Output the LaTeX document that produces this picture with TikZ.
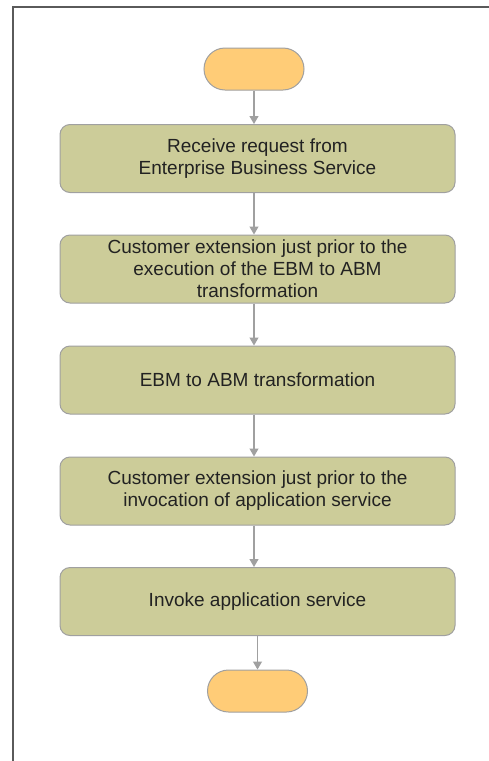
\documentclass[tikz,border=0pt]{standalone}
\usepackage{fontspec}
\setmainfont{Liberation Sans}
\usetikzlibrary{arrows.meta}
\definecolor{boxfill}{RGB}{204,204,153}
\definecolor{termfill}{RGB}{255,204,119}
\definecolor{edgegray}{RGB}{160,160,160}
\definecolor{framegray}{RGB}{90,90,90}
\definecolor{txt}{RGB}{34,34,34}
\begin{document}
\begin{tikzpicture}[x=1pt,y=-1pt,
  stepbox/.style={draw=edgegray, line width=1pt, fill=boxfill, rounded corners=10pt,
    minimum width=395pt, minimum height=68pt, align=center, text=txt,
    font=\fontsize{19}{22}\selectfont, inner sep=0pt},
  term/.style={draw=edgegray, line width=1pt, fill=termfill, rounded corners=21pt,
    minimum width=100pt, minimum height=42pt, inner sep=0pt},
  arr/.style={draw=edgegray, line width=1.2pt, -{Triangle[width=9pt,length=8pt]}}]
\useasboundingbox (0,0) rectangle (489,761);
\fill[white] (0,0) rectangle (489,761);
\draw[framegray, line width=2pt] (13,761) -- (13,7) -- (489,7);
\node[term] (s) at (254,69) {};
\node[stepbox] (b1) at (257.5,158.5) {Receive request from\\Enterprise Business Service};
\node[stepbox] (b2) at (257.5,269) {Customer extension just prior to the\\execution of the EBM to ABM\\transformation};
\node[stepbox] (b3) at (257.5,380) {EBM to ABM transformation};
\node[stepbox] (b4) at (257.5,491) {Customer extension just prior to the\\invocation of application service};
\node[stepbox] (b5) at (257.5,601.5) {Invoke application service};
\node[term] (e) at (257.5,691) {};
\draw[arr] (s.south) -- (b1.north -| s.south);
\draw[arr] (b1.south -| s.south) -- (b2.north -| s.south);
\draw[arr] (b2.south -| s.south) -- (b3.north -| s.south);
\draw[arr] (b3.south -| s.south) -- (b4.north -| s.south);
\draw[arr] (b4.south -| s.south) -- (b5.north -| s.south);
\draw[arr] (b5.south -| e.north) -- (e.north);
\end{tikzpicture}
\end{document}
